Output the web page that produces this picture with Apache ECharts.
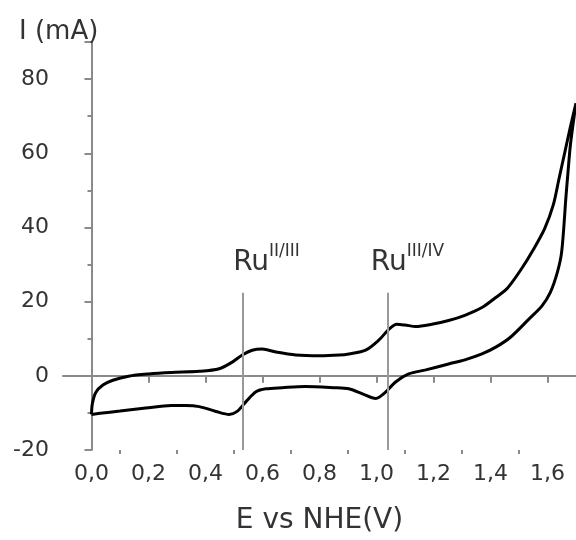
<!DOCTYPE html>
<html>
<head>
<meta charset="utf-8">
<script src="https://cdn.jsdelivr.net/npm/echarts@6/dist/echarts.min.js"></script>
<style>html,body{margin:0;padding:0;background:#fff;}#c{width:576px;height:540px;}</style>
</head>
<body>
<div id="c"></div>
<script>
// Cyclic voltammogram: forward (upper) then reverse (lower) branch
var potential = [
  0.00, 0.003, 0.015, 0.04, 0.075, 0.13, 0.20, 0.28, 0.378, 0.448, 0.494, 0.529, 0.564, 0.599,
  0.647, 0.717, 0.80, 0.87, 0.903, 0.962, 1.008, 1.043, 1.071, 1.10, 1.138, 1.194, 1.253, 1.31,
  1.37, 1.42, 1.46, 1.51, 1.55, 1.59, 1.62, 1.64, 1.66, 1.68, 1.70,
  1.69, 1.68, 1.672, 1.665, 1.65, 1.635, 1.61, 1.58, 1.54, 1.47, 1.42, 1.37, 1.31, 1.253,
  1.173, 1.113, 1.068, 1.026, 0.998, 0.949, 0.903, 0.85, 0.75, 0.669, 0.612, 0.577, 0.543,
  0.511, 0.483, 0.437, 0.378, 0.33, 0.28, 0.19, 0.10, 0.03, 0.00
];
var current = [
  -10.4, -7.5, -4.5, -2.5, -1.2, -0.1, 0.5, 0.9, 1.2, 1.9, 3.7, 5.6, 6.9, 7.2,
  6.4, 5.6, 5.4, 5.6, 5.9, 6.9, 9.6, 12.5, 13.9, 13.7, 13.3, 13.9, 14.9, 16.3,
  18.4, 21.2, 23.7, 29.0, 34.0, 39.7, 46.0, 53.0, 60.0, 67.0, 73.5,
  68.0, 62.0, 55.0, 48.5, 33.6, 28.0, 22.5, 18.8, 15.7, 10.4, 7.8, 5.9, 4.3, 3.2,
  1.6, 0.5, -1.6, -4.8, -6.1, -4.8, -3.5, -3.2, -2.9, -3.2, -3.5, -4.3, -6.9,
  -9.6, -10.4, -9.6, -8.3, -8.0, -8.0, -8.7, -9.5, -10.1, -10.4
];
// redox markers
var markerE = [0.53, 1.04];
var markerTop = [22.4, 22.4];
var markerBase = ["Ru", "Ru"];
var markerSup = ["II/III", "III/IV"];
var labelE = [0.497, 0.980];
var labelI = [26.6, 26.6];
// axis ticks
var xMajor = [0.0, 0.2, 0.4, 0.6, 0.8, 1.0, 1.2, 1.4, 1.6];
var xMinor = [0.1, 0.3, 0.5, 0.7, 0.9, 1.1, 1.3, 1.5];
var xName = "E vs NHE(V)";
var yName = "I (mA)";

var pts = potential.map(function (e, i) { return [e, current[i]]; });
var markLines = markerE.map(function (e, i) {
  return [{ coord: [e, -20] }, { coord: [e, markerTop[i]] }];
});
var markPts = labelE.map(function (e, i) {
  return {
    coord: [e, labelI[i]],
    label: { formatter: '{b|' + markerBase[i] + '}{s|' + markerSup[i] + '}' }
  };
});

var FONT = 'DejaVu Sans';
var axisGray = '#8a8a8a';

var chart = echarts.init(document.getElementById('c'), null, { renderer: 'canvas' });
chart.setOption({
  animation: false,
  backgroundColor: '#fff',
  title: {
    text: yName, left: 14, top: 14,
    textStyle: { fontFamily: FONT, fontSize: 26, fontWeight: 'normal', color: '#333' }
  },
  grid: { left: 63, right: 0, top: 42, bottom: 86 },
  xAxis: [{
    type: 'value', min: -0.1, max: 1.7,
    name: xName, nameLocation: 'middle', nameGap: 57,
    nameTextStyle: { fontFamily: FONT, fontSize: 28, color: '#333' },
    axisLine: { show: true, lineStyle: { color: axisGray, width: 2 } },
    axisTick: { show: true, customValues: xMajor, length: 7, lineStyle: { color: axisGray, width: 2 } },
    axisLabel: {
      customValues: xMajor, margin: 13,
      fontFamily: FONT, fontSize: 22, color: '#333',
      formatter: function (v) { return v.toFixed(1).replace('.', ','); }
    },
    splitLine: { show: false }
  }, {
    type: 'value', min: -0.1, max: 1.7, position: 'bottom',
    axisLine: { show: false },
    axisTick: { show: true, customValues: xMinor, length: 4, lineStyle: { color: axisGray, width: 2 } },
    axisLabel: { show: false },
    splitLine: { show: false }
  }],
  yAxis: {
    type: 'value', min: -20, max: 90, interval: 20,
    axisLine: { show: true, lineStyle: { color: axisGray, width: 2 } },
    axisTick: { show: true, length: 7, lineStyle: { color: axisGray, width: 2 } },
    minorTick: { show: true, splitNumber: 2, length: 4, lineStyle: { color: axisGray, width: 2 } },
    axisLabel: {
      margin: 14, fontFamily: FONT, fontSize: 22, color: '#333',
      showMaxLabel: false
    },
    splitLine: { show: false },
    minorSplitLine: { show: false }
  },
  series: [{
    type: 'line',
    xAxisIndex: 0,
    data: pts,
    showSymbol: false,
    smooth: 0.3,
    lineStyle: { color: '#000', width: 3 },
    markLine: {
      silent: true, symbol: 'none',
      label: { show: false },
      lineStyle: { color: '#999', width: 2, type: 'solid' },
      data: markLines
    },
    markPoint: {
      silent: true, symbol: 'circle', symbolSize: 0,
      label: {
        show: true, position: [0, 0], align: 'left', verticalAlign: 'bottom',
        rich: {
          b: { fontFamily: FONT, fontSize: 28, color: '#333', lineHeight: 34, verticalAlign: 'bottom' },
          s: { fontFamily: FONT, fontSize: 17, color: '#333', lineHeight: 34, verticalAlign: 'top' }
        }
      },
      data: markPts
    }
  }]
});
</script>
</body>
</html>
